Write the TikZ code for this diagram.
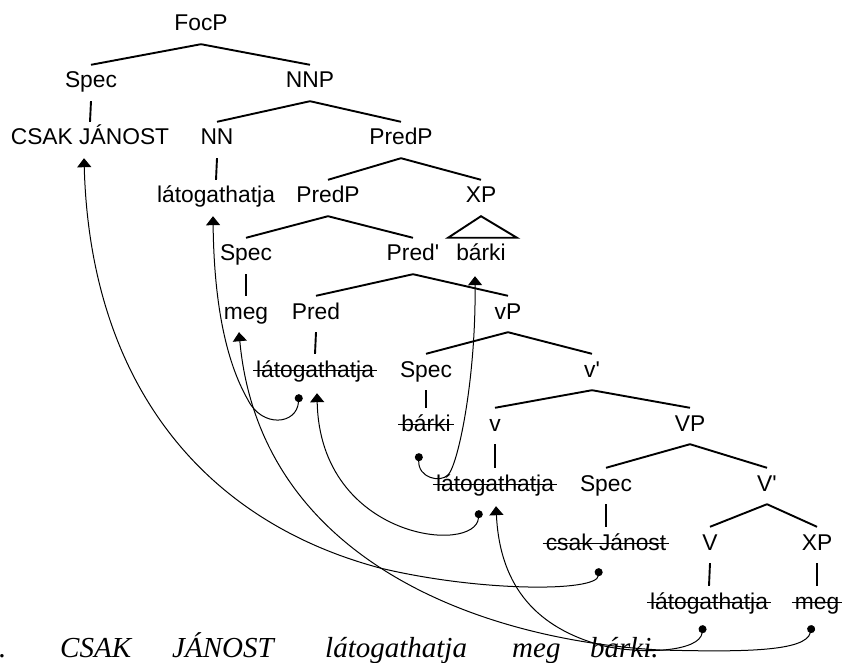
\documentclass[tikz,border=0pt]{standalone}
\usepackage{fontspec}
\setmainfont{Liberation Serif}
\setsansfont{Liberation Sans}
\usetikzlibrary{arrows.meta}

\begin{document}
\begin{tikzpicture}[x=1pt, y=-1pt,
    lbl/.style={font=\sffamily\fontsize{22.8}{26}\selectfont, text height=16pt, text depth=6pt, inner xsep=3pt, inner ysep=7pt, anchor=base},
    branch/.style={line width=1.9pt},
    strike/.style={line width=1pt},
    move/.style={line width=1pt, {Circle[length=8pt]}-{Triangle[width=14pt,length=9pt]}},
    word/.style={font=\itshape\fontsize{29}{32}\selectfont, inner sep=0pt, anchor=base west},
]
\useasboundingbox (0,0) rectangle (846,663);

% tree, row by row
\node[lbl] (focp) at (201,31) {FocP};
\node[lbl] (spec1) at (91,88) {Spec};
\node[lbl] (nnp) at (310,88) {NNP};
\node[lbl] (csak) at (90,145) {CSAK JÁNOST};
\node[lbl] (nn) at (217,145) {NN};
\node[lbl] (predp1) at (401,145) {PredP};
\node[lbl] (lat1) at (216,203) {látogathatja};
\node[lbl] (predp2) at (328,203) {PredP};
\node[lbl] (xp1) at (481,203) {XP};
\node[lbl] (spec2) at (246,261) {Spec};
\node[lbl] (predbar) at (413,261) {Pred\textquotesingle};
\node[lbl] (barki1) at (481,261) {bárki};
\node[lbl] (meg1) at (246,319) {meg};
\node[lbl] (pred) at (316,319) {Pred};
\node[lbl] (vP) at (508,319) {vP};
\node[lbl] (lat2) at (315,377) {látogathatja};
\node[lbl] (spec3) at (426,377) {Spec};
\node[lbl] (vbar) at (592,377) {v\textquotesingle};
\node[lbl] (barki2) at (426,431) {bárki};
\node[lbl] (vhead) at (495,431) {v};
\node[lbl] (VP) at (690,431) {VP};
\node[lbl] (lat3) at (495,491) {látogathatja};
\node[lbl] (spec4) at (606,491) {Spec};
\node[lbl] (Vbar) at (767,491) {V\textquotesingle};
\node[lbl] (csak2) at (606,550) {csak Jánost};
\node[lbl] (Vhead) at (710,550) {V};
\node[lbl] (xp2) at (817,550) {XP};
\node[lbl] (lat4) at (709,609) {látogathatja};
\node[lbl] (meg2) at (817,609) {meg};

\foreach \a/\b in {focp/spec1, focp/nnp, spec1/csak, nnp/nn, nnp/predp1, nn/lat1,
    predp1/predp2, predp1/xp1, predp2/spec2, predp2/predbar, spec2/meg1,
    predbar/pred, predbar/vP, pred/lat2, vP/spec3, vP/vbar, spec3/barki2,
    vbar/vhead, vbar/VP, vhead/lat3, VP/spec4, VP/Vbar, spec4/csak2,
    Vbar/Vhead, Vbar/xp2, Vhead/lat4, xp2/meg2}
  \draw[branch] (\a.south) -- (\b.north);

% roof over the XP
\draw[branch, line join=miter] (xp1.south) -- ([xshift=-33pt]barki1.north)
  -- ([xshift=36pt]barki1.north) -- cycle;

% copies left behind
\foreach \n in {lat2, barki2, lat3, csak2, lat4, meg2}
  \draw[strike] ([yshift=1.5pt]\n.west) -- ([yshift=1.5pt]\n.east);

% movement
\draw[move] ([xshift=-7pt,yshift=-5pt]csak2.south)
  .. controls (597,592) and (480,592) .. (380,568)
  .. controls (200,520) and (90,380) .. ([xshift=-6pt]csak.south);
\draw[move] ([xshift=-5pt,yshift=-3pt]meg2.south)
  .. controls (806,652) and (740,652) .. (660,650)
  .. controls (480,640) and (260,560) .. ([xshift=-7pt]meg1.south);
\draw[move] ([xshift=-6pt,yshift=-3pt]lat4.south)
  .. controls (700,652) and (640,655) .. (600,645)
  .. controls (540,628) and (500,590) .. ([xshift=1pt,yshift=-2pt]lat3.south);
\draw[move] ([xshift=-16pt,yshift=-6pt]lat3.south)
  .. controls (476,555) and (320,540) .. ([xshift=2pt,yshift=-3pt]lat2.south);
\draw[move] ([xshift=-16pt,yshift=-4pt]lat2.south)
  .. controls (297,425) and (262,428) .. (248,400)
  .. controls (225,360) and (214,300) .. ([xshift=-3pt]lat1.south);
\draw[move] ([xshift=-7pt,yshift=-9pt]barki2.south)
  .. controls (418,478) and (440,483) .. (448,475)
  .. controls (458,465) and (476,380) .. ([xshift=-6pt,yshift=-2pt]barki1.south);

% the sentence
\foreach \x/\w [count=\i] in {-1/., 60/CSAK, 172/JÁNOST, 325/látogathatja, 512/meg, 590/bárki.}
  \node[word] (w\i) at (\x,657) {\w};
\end{tikzpicture}
\end{document}
